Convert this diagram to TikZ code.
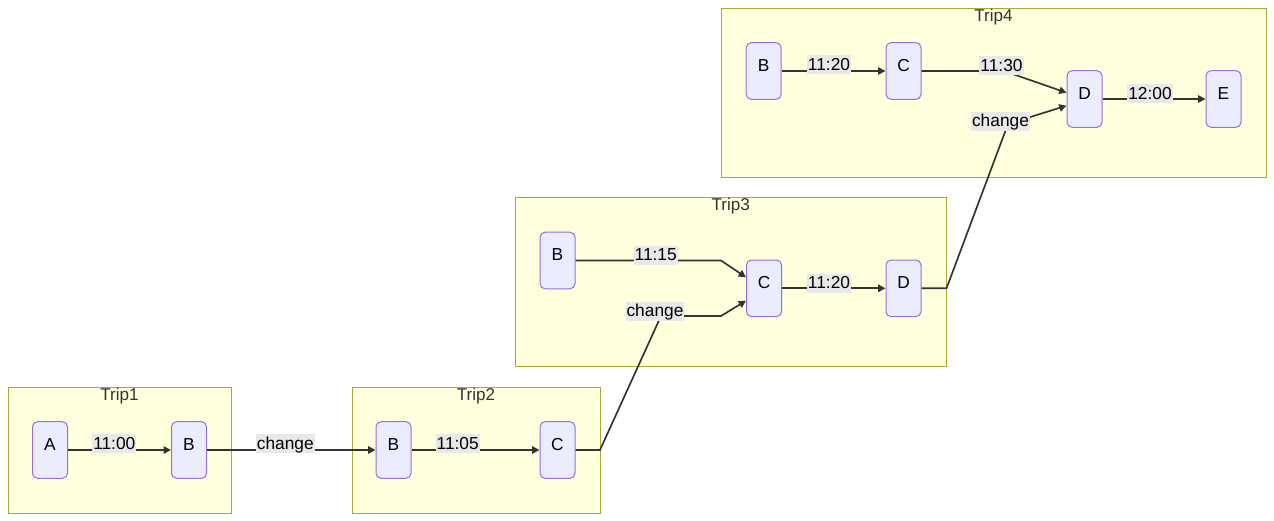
\documentclass[tikz,border=0pt]{standalone}
\usepackage{fontspec}
\setmainfont{Liberation Sans}
\usetikzlibrary{arrows.meta,calc,fit}
\definecolor{clfill}{HTML}{FFFFDE}
\definecolor{cldraw}{HTML}{AAAA33}
\definecolor{ndfill}{HTML}{ECECFF}
\definecolor{nddraw}{HTML}{9370DB}
\definecolor{edgec}{HTML}{333333}
\definecolor{lblbg}{HTML}{E8E8E8}
\begin{document}
\begin{tikzpicture}[x=0.75pt,y=-0.75pt,
  cluster/.style={draw=cldraw,fill=clfill,line width=0.75pt,inner sep=0pt},
  cltitle/.style={anchor=base,text=edgec,font=\fontsize{12.8}{15}\selectfont,inner sep=0pt},
  stn/.style={draw=nddraw,fill=ndfill,line width=0.75pt,rounded corners=3.75pt,
    minimum width=26.25pt,minimum height=42.4pt,inner sep=0pt,
    text height=8pt,text depth=8pt,font=\fontsize{13}{15}\selectfont},
  conn/.style={draw=edgec,line width=1.25pt,-{Triangle[length=5.5pt,width=5.5pt]}},
  lbl/.style={fill=lblbg,inner xsep=0.75pt,inner ysep=0pt,text height=11.5pt,text depth=2.75pt,
    font=\fontsize{13}{15}\selectfont,text=black}
]
\useasboundingbox (0,0) rectangle (1274,521);
% clusters
\node[cluster,fit={(8,387) (231,513)}] (trip1) {};
\node[cluster,fit={(352,387) (600,513)}] (trip2) {};
\node[cluster,fit={(515,197) (946.5,366)}] (trip3) {};
\node[cluster,fit={(721,8) (1266,177)}] (trip4) {};
\node[cltitle] (trip1t) at ($(trip1.north)+(0,14)$) {Trip1};
\node[cltitle] (trip2t) at ($(trip2.north)+(0,14)$) {Trip2};
\node[cltitle] (trip3t) at ($(trip3.north)+(0,14)$) {Trip3};
\node[cltitle] (trip4t) at ($(trip4.north)+(0,14)$) {Trip4};
% stations
\node[stn] (t1a) at (50,450) {A};
\node[stn] (t1b) at (189,450) {B};
\node[stn] (t2b) at (393.5,450) {B};
\node[stn] (t2c) at (557.5,450) {C};
\node[stn] (t3b) at (557.5,260.5) {B};
\node[stn] (t3c) at (764,288.3) {C};
\node[stn] (t3d) at (903.5,288.3) {D};
\node[stn] (t4b) at (763.7,71) {B};
\node[stn] (t4c) at (903.5,71) {C};
\node[stn] (t4d) at (1084.5,99) {D};
\node[stn] (t4e) at (1223.5,99) {E};
% waypoints
\coordinate (w1) at (721,260.5);
\coordinate (w2) at (600,450);
\coordinate (w3) at (661,316);
\coordinate (w4) at (721,316);
\coordinate (w5) at (946.5,288.3);
\coordinate (w6) at (1008,124);
\coordinate (w7) at (1004,71);
% edges
\draw[conn] (t1a.east) -- (t1b.west);
\draw[conn] (t1b.east) -- (t2b.west);
\draw[conn] (t2b.east) -- (t2c.west);
\draw[conn] (t2c.east) -- (w2) -- (w3) -- (w4) -- ($(t3c.west)+(0,12.4)$);
\draw[conn] (t3b.east) -- (w1) -- ($(t3c.west)+(0,-11)$);
\draw[conn] (t3c.east) -- (t3d.west);
\draw[conn] (t3d.east) -- (w5) -- (w6) -- ($(t4d.west)+(0,6.7)$);
\draw[conn] (t4b.east) -- (t4c.west);
\draw[conn] (t4c.east) -- (w7) -- ($(t4d.west)+(0,-6.3)$);
\draw[conn] (t4d.east) -- (t4e.west);
% labels
\node[lbl] (l1) at (114.3,443.7) {11:00};
\node[lbl] (l2) at (285.3,443.7) {change};
\node[lbl] (l3) at (457.7,443.7) {11:05};
\node[lbl] (l4) at (655.7,255) {11:15};
\node[lbl] (l5) at (655,311) {change};
\node[lbl] (l6) at (829,283) {11:20};
\node[lbl] (l7) at (829,64.5) {11:20};
\node[lbl] (l8) at (1001.5,65.5) {11:30};
\node[lbl] (l9) at (1000.5,121) {change};
\node[lbl] (l10) at (1150,93.5) {12:00};
\end{tikzpicture}
\end{document}
